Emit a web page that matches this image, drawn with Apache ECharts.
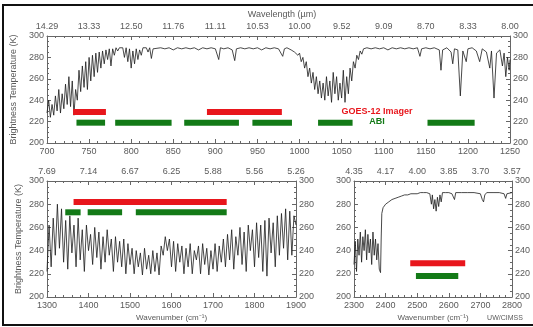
<!DOCTYPE html>
<html>
<head>
<meta charset="utf-8">
<script src="https://cdn.jsdelivr.net/npm/echarts@6/dist/echarts.min.js"></script>
<style>
  html, body { margin: 0; padding: 0; background: #ffffff; }
  #chart { width: 533px; height: 327px; }
</style>
</head>
<body>
<div id="chart"></div>
<script>
// tick labels of the wavelength (top) axes, in micrometres
const topWavelengths = ['14.29', '13.33', '12.50', '11.76', '11.11', '10.53', '10.00', '9.52', '9.09', '8.70', '8.33', '8.00'];
const midWavelengths = ['7.69', '7.14', '6.67', '6.25', '5.88', '5.56', '5.26'];
const swWavelengths = ['4.35', '4.17', '4.00', '3.85', '3.70', '3.57'];

// spectral bands [start, end] in cm-1, with the height they are drawn at (K)
const goesBandsLw = [[731, 770], [890, 979]];
const abiBandsLw = [[735, 769], [781, 848], [863, 928], [944, 991], [1022, 1063], [1152, 1208]];
const goesBandsMid = [[1364, 1733]];
const abiBandsMid = [[1344, 1381], [1398, 1481], [1514, 1733]];
const goesBandsSw = [[2478, 2652]];
const abiBandsSw = [[2496, 2630]];
const goesLevelLw = 229, abiLevelLw = 219;
const goesLevelMid = 282, abiLevelMid = 273;
const goesLevelSw = 229, abiLevelSw = 218;

// brightness temperature spectra [wavenumber cm-1, K]
const spectrumLw = [
  [700, 228], [702, 240], [704, 224], [706, 236], [708, 226], [710, 244], [712, 230], [714, 250],
  [716, 228], [718, 246], [720, 232], [722, 255], [724, 236], [726, 262], [728, 234], [730, 258],
  [732, 226], [734, 250], [736, 240], [738, 268], [740, 248], [742, 272], [744, 252], [746, 276],
  [748, 250], [750, 280], [752, 258], [754, 282], [756, 262], [758, 284], [760, 266], [762, 285],
  [764, 270], [766, 286], [768, 274], [770, 287], [772, 278], [774, 288], [776, 272], [778, 288],
  [780, 282], [782, 289], [784, 286], [786, 289], [788, 288], [790, 289], [792, 280], [794, 289],
  [796, 276], [798, 288], [800, 270], [802, 286], [804, 274], [806, 288], [808, 278], [810, 287],
  [812, 282], [814, 289], [816, 288], [818, 289], [820, 285], [822, 289], [824, 279], [826, 288],
  [828, 289], [835, 289], [840, 288], [845, 289], [850, 287], [855, 289], [860, 288], [865, 289],
  [870, 288], [875, 289], [880, 287], [885, 289], [890, 288], [895, 289], [900, 288], [904, 278],
  [906, 289], [910, 288], [915, 289], [920, 287], [923, 277], [925, 288], [930, 289], [935, 288],
  [940, 289], [945, 288], [950, 289], [955, 287], [960, 289], [965, 288], [970, 289], [975, 288],
  [980, 281], [982, 288], [985, 289], [990, 287], [994, 285], [998, 282], [1000, 284], [1002, 276],
  [1004, 280], [1006, 270], [1008, 276], [1010, 262], [1012, 270], [1014, 256], [1016, 266], [1018, 250],
  [1020, 262], [1022, 246], [1024, 258], [1026, 242], [1028, 256], [1030, 240], [1032, 262], [1034, 244],
  [1036, 258], [1038, 238], [1040, 266], [1042, 246], [1044, 262], [1046, 240], [1048, 256], [1050, 242],
  [1052, 268], [1054, 238], [1056, 262], [1058, 246], [1060, 270], [1062, 258], [1064, 276], [1066, 270],
  [1068, 282], [1070, 278], [1072, 286], [1074, 283], [1076, 288], [1080, 289], [1085, 288], [1090, 289],
  [1095, 288], [1100, 289], [1105, 287], [1110, 289], [1115, 288], [1120, 289], [1125, 288], [1130, 289],
  [1135, 288], [1140, 289], [1143, 281], [1145, 288], [1150, 289], [1155, 288], [1160, 289], [1166, 287],
  [1168, 268], [1170, 287], [1175, 289], [1180, 285], [1182, 274], [1184, 288], [1188, 287], [1191, 244],
  [1194, 286], [1198, 276], [1200, 288], [1205, 289], [1210, 286], [1214, 276], [1217, 288], [1222, 285],
  [1226, 270], [1228, 286], [1231, 242], [1234, 284], [1238, 287], [1241, 272], [1243, 284], [1245, 262],
  [1247, 280], [1249, 268], [1250, 278]
];

const spectrumMid = [
  [1300, 222], [1305, 262], [1310, 226], [1315, 268], [1320, 236], [1325, 280], [1330, 242], [1335, 276],
  [1340, 230], [1345, 266], [1350, 224], [1355, 270], [1360, 238], [1365, 262], [1370, 226], [1375, 268],
  [1380, 232], [1385, 258], [1390, 222], [1395, 262], [1400, 240], [1405, 254], [1410, 228], [1415, 260],
  [1420, 234], [1425, 256], [1430, 224], [1435, 252], [1440, 230], [1445, 258], [1450, 236], [1455, 250],
  [1460, 222], [1465, 252], [1470, 230], [1475, 248], [1480, 226], [1485, 250], [1490, 220], [1495, 246],
  [1500, 228], [1505, 242], [1510, 220], [1515, 240], [1520, 226], [1525, 238], [1530, 219], [1535, 242],
  [1540, 224], [1545, 236], [1550, 220], [1555, 240], [1560, 222], [1565, 238], [1570, 219], [1575, 244],
  [1580, 236], [1585, 252], [1590, 240], [1595, 250], [1600, 226], [1605, 248], [1610, 222], [1615, 246],
  [1620, 230], [1625, 244], [1630, 220], [1635, 242], [1640, 226], [1645, 246], [1650, 220], [1655, 240],
  [1660, 232], [1665, 244], [1670, 220], [1675, 246], [1680, 228], [1685, 242], [1690, 219], [1695, 240],
  [1700, 224], [1705, 246], [1710, 222], [1715, 244], [1720, 230], [1725, 250], [1730, 226], [1735, 254],
  [1740, 232], [1745, 258], [1750, 224], [1755, 252], [1760, 236], [1765, 260], [1770, 228], [1775, 256],
  [1780, 222], [1785, 262], [1790, 240], [1795, 258], [1800, 226], [1805, 264], [1810, 234], [1815, 262],
  [1820, 222], [1825, 266], [1830, 218], [1835, 268], [1840, 238], [1845, 264], [1850, 226], [1855, 270],
  [1860, 236], [1865, 272], [1870, 242], [1875, 276], [1880, 232], [1885, 274], [1890, 236], [1895, 270],
  [1900, 262]
];

const spectrumSw = [
  [2300, 228], [2304, 248], [2308, 222], [2312, 250], [2316, 236], [2320, 256], [2324, 230], [2328, 252],
  [2332, 240], [2336, 258], [2340, 232], [2344, 254], [2348, 238], [2352, 250], [2356, 228], [2360, 256],
  [2364, 236], [2368, 250], [2372, 232], [2376, 246], [2380, 224], [2384, 221], [2386, 250], [2388, 272],
  [2392, 277], [2400, 280], [2410, 282], [2420, 284], [2430, 285], [2440, 286], [2450, 287], [2460, 288],
  [2470, 288], [2480, 289], [2490, 289], [2500, 289], [2510, 290], [2520, 290], [2530, 290], [2540, 289],
  [2545, 280], [2548, 288], [2552, 276], [2556, 284], [2560, 274], [2564, 286], [2568, 278], [2572, 288],
  [2576, 282], [2580, 290], [2590, 290], [2600, 290], [2610, 289], [2618, 284], [2622, 290], [2640, 290],
  [2660, 290], [2680, 290], [2700, 289], [2706, 284], [2710, 282], [2714, 288], [2720, 290], [2740, 290],
  [2760, 290], [2775, 289], [2780, 285], [2784, 289], [2800, 290]
];

const RED = '#e8161c';
const GREEN = '#137a17';
const FONT = 'Liberation Sans';

const chart = echarts.init(document.getElementById('chart'), null, { renderer: 'canvas' });

const labelStyle = { color: '#5a5a5a', fontSize: 9, fontFamily: FONT };
const lineStyle = { color: '#666', width: 1 };

function xAxisPair(gridIndex, min, max, interval, wavelengths) {
    const common = {
        type: 'value', gridIndex, min, max, interval,
        axisLine: { lineStyle },
        axisTick: { inside: true, length: 4, lineStyle },
        minorTick: { show: true, splitNumber: 5, length: 2, lineStyle },
        splitLine: { show: false },
    };
    return [
        Object.assign({}, common, {
            position: 'bottom',
            axisLabel: Object.assign({ margin: 4, formatter: (v) => String(v) }, labelStyle),
        }),
        Object.assign({}, common, {
            position: 'top',
            axisLabel: Object.assign({
                margin: 5,
                formatter: (v) => wavelengths[Math.round((v - min) / interval)],
            }, labelStyle),
        }),
    ];
}

function yAxisPair(gridIndex, name) {
    const common = {
        type: 'value', gridIndex, min: 200, max: 300, interval: 20,
        axisLine: { show: true, lineStyle },
        axisTick: { show: true, inside: true, length: 4, lineStyle },
        minorTick: { show: true, splitNumber: 4, length: 2, lineStyle },
        splitLine: { show: false },
        axisLabel: Object.assign({ margin: 3 }, labelStyle),
    };
    return [
        Object.assign({}, common, {
            position: 'left',
            name: name || '',
            nameLocation: 'middle',
            nameGap: 24,
            nameTextStyle: { color: '#5a5a5a', fontSize: 9, fontFamily: FONT },
        }),
        Object.assign({}, common, { position: 'right' }),
    ];
}

function bandSeries(bands, level, color, xi, yi) {
    return bands.map(b => ({
        type: 'line',
        xAxisIndex: xi, yAxisIndex: yi,
        data: [[b[0], level], [b[1], level]],
        symbol: 'none',
        lineStyle: { color, width: 6, cap: 'butt' },
        z: 5,
    }));
}

function spectrumSeries(data, xi, yi) {
    return {
        type: 'line',
        xAxisIndex: xi, yAxisIndex: yi,
        data,
        symbol: 'none',
        lineStyle: { color: '#1c1c1c', width: 0.8 },
    };
}

const xAxes = [
    ...xAxisPair(0, 700, 1250, 50, topWavelengths),
    ...xAxisPair(1, 1300, 1900, 100, midWavelengths),
    ...xAxisPair(2, 2300, 2800, 100, swWavelengths),
];
// wavenumber names under the lower panels
xAxes[2].name = 'Wavenumber (cm⁻¹)';
xAxes[4].name = 'Wavenumber (cm⁻¹)';
[xAxes[2], xAxes[4]].forEach(a => {
    a.nameLocation = 'middle';
    a.nameGap = 17;
    a.nameTextStyle = { color: '#5a5a5a', fontSize: 8, fontFamily: FONT };
});

const option = {
    animation: false,
    backgroundColor: '#ffffff',
    grid: [
        { left: 47, top: 36, width: 463, height: 107 },
        { left: 47, top: 181, width: 249, height: 116 },
        { left: 354, top: 181, width: 159, height: 116 },
    ],
    xAxis: xAxes,
    yAxis: [
        ...yAxisPair(0, 'Brightness Temperature (K)'),
        ...yAxisPair(1, 'Brightness Temperature (K)'),
        ...yAxisPair(2, ''),
    ],
    series: [
        spectrumSeries(spectrumLw, 0, 0),
        spectrumSeries(spectrumMid, 2, 2),
        spectrumSeries(spectrumSw, 4, 4),
        ...bandSeries(goesBandsLw, goesLevelLw, RED, 0, 0),
        ...bandSeries(abiBandsLw, abiLevelLw, GREEN, 0, 0),
        ...bandSeries(goesBandsMid, goesLevelMid, RED, 2, 2),
        ...bandSeries(abiBandsMid, abiLevelMid, GREEN, 2, 2),
        ...bandSeries(goesBandsSw, goesLevelSw, RED, 4, 4),
        ...bandSeries(abiBandsSw, abiLevelSw, GREEN, 4, 4),
    ],
    graphic: [
        // outer frame
        { type: 'rect', shape: { x: 3, y: 5, width: 540, height: 320 },
          style: { fill: 'none', stroke: '#111', lineWidth: 2 }, silent: true },
        { type: 'text', x: 282, y: 15,
          style: { text: 'Wavelength (µm)', fill: '#5a5a5a', fontSize: 9, fontFamily: FONT, align: 'center', verticalAlign: 'middle' } },
        { type: 'text', x: 377, y: 112,
          style: { text: 'GOES-12 Imager', fill: RED, fontSize: 9, fontWeight: 'bold', fontFamily: FONT, align: 'center', verticalAlign: 'middle' } },
        { type: 'text', x: 377, y: 122,
          style: { text: 'ABI', fill: GREEN, fontSize: 9, fontWeight: 'bold', fontFamily: FONT, align: 'center', verticalAlign: 'middle' } },
        { type: 'text', x: 505, y: 318,
          style: { text: 'UW/CIMSS', fill: '#5a5a5a', fontSize: 7, fontFamily: FONT, align: 'center', verticalAlign: 'middle' } },
    ],
};

chart.setOption(option);
</script>
</body>
</html>
